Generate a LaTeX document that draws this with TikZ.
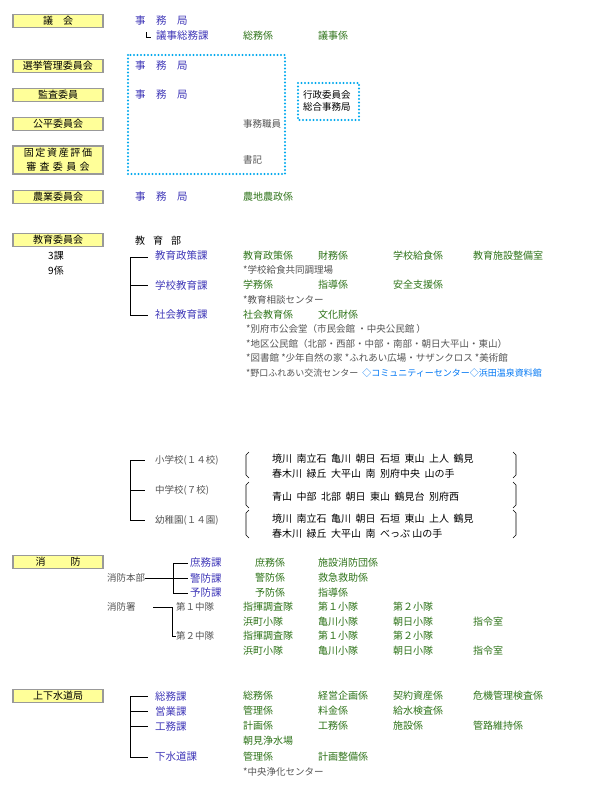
\documentclass[tikz,border=0pt]{standalone}
\usepackage{fontspec}
\setmainfont{Noto Sans CJK JP}
\definecolor{kaBlue}{rgb}{0.25,0.22,0.72}
\definecolor{kaGreen}{rgb}{0.18,0.45,0.10}
\definecolor{kaGray}{rgb}{0.33,0.33,0.33}
\definecolor{kaSky}{rgb}{0.0,0.66,0.93}
\definecolor{kaYellow}{rgb}{1,1,0.6}
\tikzset{
  org/.style={draw=gray!80, line width=1.8pt, fill=kaYellow, minimum width=90pt, minimum height=13pt, inner sep=0pt, font=\fontsize{10}{10}\selectfont, align=center},
  ka/.style={anchor=west, inner sep=0pt, text=kaBlue, font=\fontsize{10.5}{10}\selectfont},
  kakari/.style={anchor=west, inner sep=0pt, text=kaGreen, font=\fontsize{10}{10}\selectfont},
  shisetsu/.style={anchor=west, inner sep=0pt, text=kaGray, font=\fontsize{9.5}{10}\selectfont},
  txt/.style={anchor=west, inner sep=0pt, font=\fontsize{10}{10}\selectfont},
  dot/.style={draw=kaSky, line width=2.2pt, dash pattern=on 0pt off 3.5pt, line cap=round},
  brk/.style={black, line width=0.8pt}
}
\begin{document}
\begin{tikzpicture}[x=1pt,y=-1pt]
  \useasboundingbox (0,0) rectangle (614,795);

  % left column
  \node[org] (gikai) at (58,21) {議\hspace{1em}会};
  \node[org] (senkyo) at (58,66) {選挙管理委員会};
  \node[org] (kansa) at (58,95) {監査委員};
  \node[org] (kohei) at (58,124) {公平委員会};
  \node[org, minimum height=28pt, font=\fontsize{10}{14}\selectfont] (kotei) at (58,160) {固\,定\,資\,産\,評\,価\\審\,\,査\,\,委\,\,員\,\,会};
  \node[org] (nogyo) at (58,197) {農業委員会};
  \node[org] (kyoiku) at (58,240) {教育委員会};
  \node[txt] (sanka) at (48,256) {3課};
  \node[txt] (kyuka) at (48,271) {9係};
  \node[org] (shobo) at (58,562) {消\hspace{2.5em}防};
  \node[org] (suido) at (58,696) {上下水道局};

  % gikai
  \node[ka] (gj) at (135,21) {事\hspace{1em}務\hspace{1em}局};
  \node[ka] (gs) at (156,36) {議事総務課};
  \draw[brk, line width=1pt] (146,32) -- (146,37) -- (151,37);
  \node[kakari] (g1) at (243,36) {総務係};
  \node[kakari] (g2) at (318,36) {議事係};

  % gyosei iinkai
  \draw[dot] (128,55) rectangle (285,174);
  \draw[dot] (298,83) rectangle (359,120);
  \node[ka] (sj) at (135,66) {事\hspace{1em}務\hspace{1em}局};
  \node[ka] (kj) at (135,95) {事\hspace{1em}務\hspace{1em}局};
  \node[shisetsu] (shokuin) at (243,124) {事務職員};
  \node[shisetsu] (shoki) at (243,160) {書記};
  \node[txt, align=left, font=\fontsize{9.5}{12}\selectfont] (sogo) at (303,101) {行政委員会\\総合事務局};
  \node[ka] (nj) at (135,197) {事\hspace{1em}務\hspace{1em}局};
  \node[kakari] (n1) at (243,197) {農地農政係};

  % kyoiku
  \node[txt] (kb) at (135,241) {教\hspace{0.8em}育\hspace{0.8em}部};
  \coordinate (kt) at (130,257);
  \coordinate (kd) at (130,315);
  \draw[brk] (kt) -- (kd);
  \foreach \yy in {257,285,315} \draw[brk] (130,\yy) -- (148,\yy);
  \node[ka] (k1) at (155,256) {教育政策課};
  \node[kakari] (k11) at (243,256) {教育政策係};
  \node[kakari] (k12) at (318,256) {財務係};
  \node[kakari] (k13) at (393,256) {学校給食係};
  \node[kakari] (k14) at (473,256) {教育施設整備室};
  \node[shisetsu] (k15) at (243,270) {*学校給食共同調理場};
  \node[ka] (k2) at (155,285) {学校教育課};
  \node[kakari] (k21) at (243,285) {学務係};
  \node[kakari] (k22) at (318,285) {指導係};
  \node[kakari] (k23) at (393,285) {安全支援係};
  \node[shisetsu] (k24) at (243,300) {*教育相談センター};
  \node[ka] (k3) at (155,315) {社会教育課};
  \node[kakari] (k31) at (243,315) {社会教育係};
  \node[kakari] (k32) at (318,315) {文化財係};
  \node[shisetsu] (k33) at (246,329) {*別府市公会堂（市民会館\ ・中央公民館\ ）};
  \node[shisetsu] (k34) at (246,344) {*地区公民館（北部・西部・中部・南部・朝日大平山・東山）};
  \node[shisetsu] (k35) at (246,358) {*図書館 *少年自然の家 *ふれあい広場・サザンクロス *美術館};
  \node[shisetsu, font=\fontsize{9}{10}\selectfont] (k36) at (246,373) {*野口ふれあい交流センター\ \ \textcolor{kaSky!70!blue}{◇コミュニティーセンター◇浜田温泉資料館}};

  % gakko
  \draw[brk] (130,460) -- (130,520);
  \foreach \yy in {460,490,520} \draw[brk] (130,\yy) -- (145,\yy);
  \node[shisetsu] (e1) at (155,460) {小学校(１４校)};
  \node[shisetsu] (e2) at (155,490) {中学校(７校)};
  \node[shisetsu] (e3) at (155,520) {幼稚園(１４園)};
  \foreach \ya/\yb in {452/478,482/508,510/538} {
    \draw[brk, line width=0.6pt] (249,\ya) -- (246,\ya+3) -- (246,\yb-3) -- (249,\yb);
    \draw[brk, line width=0.6pt] (513,\ya) -- (516,\ya+3) -- (516,\yb-3) -- (513,\yb);
  }
  \node[txt] (s1) at (272,459) {境川\ \ 南立石\ \ 亀川\ \ 朝日\ \ 石垣\ \ 東山\ \ 上人\ \ 鶴見};
  \node[txt] (s2) at (272,474) {春木川\ \ 緑丘\ \ 大平山\ \ 南\ \ 別府中央\ \ 山の手};
  \node[txt] (c1) at (272,497) {青山\ \ 中部\ \ 北部\ \ 朝日\ \ 東山\ \ 鶴見台\ \ 別府西};
  \node[txt] (y1) at (272,519) {境川\ \ 南立石\ \ 亀川\ \ 朝日\ \ 石垣\ \ 東山\ \ 上人\ \ 鶴見};
  \node[txt] (y2) at (272,534) {春木川\ \ 緑丘\ \ 大平山\ \ 南\ \ べっぷ\ 山の手};

  % shobo
  \node[shisetsu] (honbu) at (107,578) {消防本部};
  \node[shisetsu] (sho) at (107,607) {消防署};
  \draw[brk] (honbu.east) -- (173,578);
  \draw[brk] (173,563) -- (173,593);
  \foreach \yy in {563,578,593} \draw[brk] (173,\yy) -- (188,\yy);
  \node[ka] (h1) at (190,563) {庶務課};
  \node[ka] (h2) at (190,578) {警防課};
  \node[ka] (h3) at (190,593) {予防課};
  \node[kakari] (h11) at (255,563) {庶務係};
  \node[kakari] (h12) at (318,563) {施設消防団係};
  \node[kakari] (h21) at (255,578) {警防係};
  \node[kakari] (h22) at (318,578) {救急救助係};
  \node[kakari] (h31) at (255,593) {予防係};
  \node[kakari] (h32) at (318,593) {指導係};
  \draw[brk] (153,607) -- (172,607);
  \draw[brk] (172,607) -- (172,636) -- (176,636);
  \node[shisetsu] (t1) at (176,607) {第１中隊};
  \node[shisetsu] (t2) at (176,636) {第２中隊};
  \foreach \yy [count=\i] in {607,636} {
    \node[kakari] (ta\i) at (243,\yy) {指揮調査隊};
    \node[kakari] (tb\i) at (318,\yy) {第１小隊};
    \node[kakari] (tc\i) at (393,\yy) {第２小隊};
    \node[kakari] (td\i) at (243,\yy+15) {浜町小隊};
    \node[kakari] (te\i) at (318,\yy+15) {亀川小隊};
    \node[kakari] (tf\i) at (393,\yy+15) {朝日小隊};
    \node[kakari] (tg\i) at (473,\yy+15) {指令室};
  }

  % suido
  \draw[brk] (130,696) -- (130,757);
  \foreach \yy in {696,711,726,757} \draw[brk] (130,\yy) -- (148,\yy);
  \node[ka] (w1) at (155,696) {総務課};
  \node[ka] (w2) at (155,711) {営業課};
  \node[ka] (w3) at (155,726) {工務課};
  \node[ka] (w4) at (155,757) {下水道課};
  \node[kakari] (w11) at (243,696) {総務係};
  \node[kakari] (w12) at (318,696) {経営企画係};
  \node[kakari] (w13) at (393,696) {契約資産係};
  \node[kakari] (w14) at (473,696) {危機管理検査係};
  \node[kakari] (w21) at (243,711) {管理係};
  \node[kakari] (w22) at (318,711) {料金係};
  \node[kakari] (w23) at (393,711) {給水検査係};
  \node[kakari] (w31) at (243,726) {計画係};
  \node[kakari] (w32) at (318,726) {工務係};
  \node[kakari] (w33) at (393,726) {施設係};
  \node[kakari] (w34) at (473,726) {管路維持係};
  \node[kakari] (w35) at (243,741) {朝見浄水場};
  \node[kakari] (w41) at (243,757) {管理係};
  \node[kakari] (w42) at (318,757) {計画整備係};
  \node[shisetsu] (w43) at (243,772) {*中央浄化センター};
\end{tikzpicture}
\end{document}
